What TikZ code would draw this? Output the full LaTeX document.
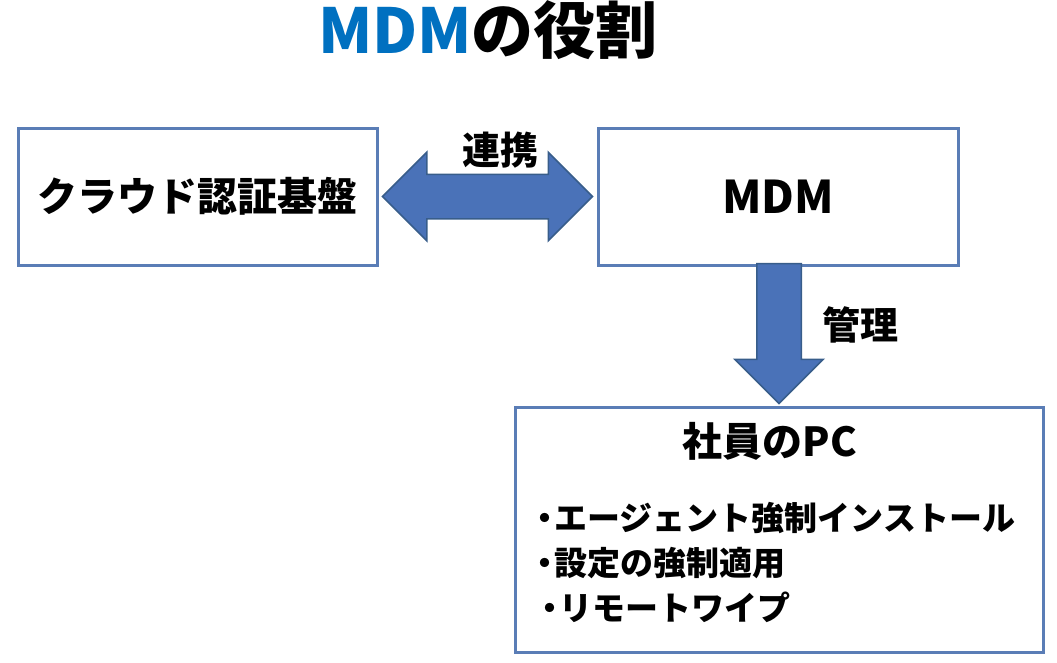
\documentclass[tikz,border=0pt]{standalone}
\usepackage{fontspec}
\setmainfont{Noto Sans CJK JP}
\usetikzlibrary{calc}
\usetikzlibrary{positioning}
\usetikzlibrary{shapes.arrows}
\definecolor{mdmblue}{HTML}{0070C0}
\definecolor{boxline}{HTML}{5A7DB6}
\definecolor{arrowfill}{HTML}{4A72B8}
\definecolor{arrowline}{HTML}{385D8A}
\tikzstyle{boxnode} = [draw=boxline, line width=3pt, rectangle, fill=white, align=center, font=\bfseries\fontsize{40}{48}\selectfont]
\tikzstyle{lblnode} = [font=\bfseries\fontsize{38}{46}\selectfont]
\tikzstyle{fatarrow} = [draw=arrowline, fill=arrowfill, line width=1.5pt, inner sep=21.5pt, outer sep=0pt]

\begin{document}
\begin{tikzpicture}[x=1pt, y=-1pt]
  \useasboundingbox (0,0) rectangle (1057,662);
  \node[font=\bfseries\fontsize{62}{70}\selectfont] (title) at (488,30) {\textcolor{mdmblue}{MDM}の役割};

  \node[boxnode, minimum width=359pt, minimum height=137pt] (cloud) at (197.5,196.5) {クラウド認証基盤};
  \node[boxnode, minimum width=360pt, minimum height=137pt, font=\bfseries\fontsize{45}{52}\selectfont] (mdm) at (778,196.5) {MDM};
  \node[boxnode, minimum width=528pt, minimum height=245pt] (pc) at (779,529.5) {};

  \node[fatarrow, double arrow, double arrow head extend=22pt, minimum height=210pt] (link) at ($(cloud.east)!0.5!(mdm.west)$) {};
  \node[lblnode] (linklbl) at (500,150) {連携};

  \node[fatarrow, single arrow, shape border rotate=270, single arrow head extend=22pt, minimum height=140pt, anchor=tip] (manage) at ($(pc.north)+(0,-2)$) {};
  \node[lblnode] (managelbl) at (860,325) {管理};

  \node[lblnode, font=\bfseries\fontsize{40}{48}\selectfont] (pctitle) at (770,441) {社員のPC};
  \node[anchor=west, align=left, inner sep=0pt, font=\bfseries\fontsize{33}{45}\selectfont] (items) at (528,562)
    {・\kern-0.2em エージェント強制インストール\\
     ・\kern-0.2em 設定の強制適用\\
     \hspace{5pt}・\kern-0.2em リモートワイプ};
\end{tikzpicture}
\end{document}
